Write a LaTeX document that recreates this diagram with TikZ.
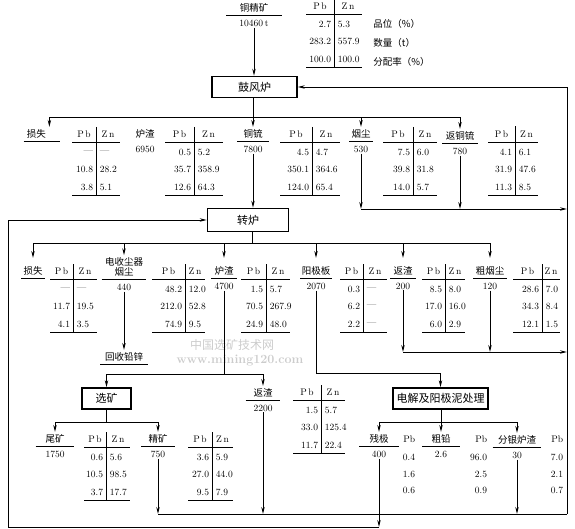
\documentclass[tikz,border=0pt]{standalone}
\usepackage{fontspec}
\newfontfamily\cjk{Noto Sans CJK SC}
\usetikzlibrary{positioning,arrows.meta,calc}

% Pb/Zn table: name, x of rule, header y, left reach, right reach, rows
\newcommand{\pbzn}[6]{%
  \node[hd] (#1-p) at (#2-#4/2,#3) {P\,b};
  \node[hd] (#1-z) at (#2+#5/2,#3) {Z\,n};
  \draw (#2-#4,#3+8) -- (#2+#5,#3+8);
  \draw (#2,#3-7) -- (#2,#3+61);
  \draw (#2-#4,#3+61) -- (#2+#5,#3+61);
  \foreach \a/\b [count=\i] in {#6} {
    \node[val,anchor=east] (#1-p\i) at (#2-2,#3+.5+17.5*\i) {\a};
    \node[val,anchor=west] (#1-z\i) at (#2+3,#3+.5+17.5*\i) {\b};
  }
}

\begin{document}
\begin{tikzpicture}[x=1pt,y=-1pt,line width=0.9pt,
  >={Stealth[length=7pt,width=3.4pt]},
  proc/.style={draw,line width=1.5pt,font=\cjk\fontsize{11}{12}\selectfont,minimum height=21pt,inner sep=2pt},
  lbl/.style={font=\cjk\fontsize{9.5}{10}\selectfont,inner xsep=2pt,inner ysep=2.3pt},
  ul/.style={append after command={(\tikzlastnode.south west) edge (\tikzlastnode.south east)}},
  val/.style={font=\fontsize{9.5}{10}\selectfont,inner sep=0.5pt},
  hd/.style={val},
  wm/.style={text=gray!40,inner sep=0pt}]
\useasboundingbox (0,0) rectangle (575,529);

% watermark
\node[wm,font=\cjk\fontsize{12}{13}\selectfont] (wm1) at (232,345) {中国选矿技术网};
\node[wm,font=\bfseries\fontsize{12.5}{13}\selectfont] (wm2) at (240,361) {www.mining120.com};

% process boxes
\node[proc,minimum width=85pt] (gfl) at (254.5,87) {鼓风炉};
\node[proc,minimum width=81pt,minimum height=23pt] (zl) at (248,220) {转炉};
\node[proc,minimum width=49pt] (xk) at (106.5,398.5) {选矿};
\node[proc,minimum width=95pt] (dj) at (440.5,398.5) {电解及阳极泥处理};

% feed
\node[lbl,ul,inner xsep=13pt] (feed) at (254,8) {铜精矿};
\node[val,below=4pt of feed] (feedq) {10460\,t};
\pbzn{t0}{334}{6}{28}{28}{2.7/5.3,283.2/557.9,100.0/100.0}
\node[lbl,anchor=west] (pw) at (371,24) {品位（\%）};
\node[lbl,anchor=west] (sl) at (371,43) {数量（t）};
\node[lbl,anchor=west] (fpl) at (371,62) {分配率（\%）};

% products of the blast furnace
\node[lbl,ul,text width=30pt,inner xsep=3pt] (ss1) at (42,134) {损失};
\node[lbl] (lz1) at (145,134) {炉渣};
\node[val,below=4pt of lz1] (lz1q) {6950};
\node[lbl,ul,inner xsep=6pt] (tl) at (253,134) {铜锍};
\node[val,below=4pt of tl] (tlq) {7800};
\node[lbl,ul] (yc1) at (361,134) {烟尘};
\node[val,below=4pt of yc1] (yc1q) {530};
\node[lbl,ul,inner xsep=3pt] (ftl) at (460,136) {返铜锍};
\node[val,below=4pt of ftl] (ftlq) {780};
\pbzn{t1}{96}{134}{24}{24}{\textemdash/\textemdash,10.8/28.2,3.8/5.1}
\pbzn{t2}{194}{134}{29}{29}{0.5/5.2,35.7/358.9,12.6/64.3}
\pbzn{t3}{312}{134}{32}{28}{4.5/4.7,350.1/364.6,124.0/65.4}
\pbzn{t4}{413}{134}{30}{24}{7.5/6.0,39.8/31.8,14.0/5.7}
\pbzn{t5}{515}{134}{27}{23}{4.1/6.1,31.9/47.6,11.3/8.5}
\draw (t5-p.north -| 515,0) ++(0,4) -- ++(0,-8);

% products of the converter
\node[lbl,ul] (ss2) at (33,271) {损失};
\node[lbl,ul,align=center,anchor=south,inner xsep=3pt,font=\cjk\fontsize{9.5}{9.5}\selectfont] (dsc) at (124,279) {电收尘器\\烟尘};
\node[val,below=4pt of dsc] (dscq) {440};
\node[lbl,ul,inner xsep=4.5pt] (hsqx) at (124,357) {回收铅锌};
\node[lbl,ul,inner xsep=3pt] (zlz) at (224,271) {炉渣};
\node[val,below=4pt of zlz] (zlzq) {4700};
\node[lbl,ul,inner xsep=1pt] (yjb) at (316,271) {阳极板};
\node[val,below=4pt of yjb] (yjbq) {2070};
\node[lbl,ul,inner xsep=3pt] (fz1) at (403,271) {返渣};
\node[val,below=4pt of fz1] (fz1q) {200};
\node[lbl,ul] (cyc) at (490,271) {粗烟尘};
\node[val,below=4pt of cyc] (cycq) {120};
\pbzn{t6}{73}{271}{23}{24}{\textemdash/\textemdash,11.7/19.5,4.1/3.5}
\pbzn{t7}{185}{271}{33}{20}{48.2/12.0,212.0/52.8,74.9/9.5}
\pbzn{t8}{266}{271}{25}{24}{1.5/5.7,70.5/267.9,24.9/48.0}
\pbzn{t9}{363}{271}{23}{24}{0.3/\textemdash,6.2/\textemdash,2.2/\textemdash}
\pbzn{t10}{445}{271}{23}{20}{8.5/8.0,17.0/16.0,6.0/2.9}
\pbzn{t11}{542}{271}{29}{18}{28.6/7.0,34.3/8.4,12.1/1.5}

% slag flotation
\node[lbl,ul,inner xsep=7.5pt] (fz2) at (263,393) {返渣};
\node[val,below=4pt of fz2] (fz2q) {2200};
\pbzn{t14}{321}{392}{28}{24}{1.5/5.7,33.0/125.4,11.7/22.4}
\node[lbl,ul,inner xsep=9.5pt] (wk) at (55,439) {尾矿};
\node[val,below=4pt of wk] (wkq) {1750};
\node[lbl,ul,inner xsep=7pt] (jk) at (158,439) {精矿};
\node[val,below=4pt of jk] (jkq) {750};
\pbzn{t12}{106}{439}{22}{24}{0.6/5.6,10.5/98.5,3.7/17.7}
\pbzn{t13}{212}{439}{24}{21}{3.6/5.9,27.0/44.0,9.5/7.9}

% electrolysis
\node[lbl,ul,inner xsep=10pt] (cj) at (379,439) {残极};
\node[val,below=4pt of cj] (cjq) {400};
\node[lbl,ul,inner xsep=9pt] (cq) at (441,439) {粗铅};
\node[val,below=4pt of cq] (cqq) {2.6};
\node[lbl,ul,inner xsep=5pt] (fyl) at (517,440) {分银炉渣};
\node[val,below=4pt of fyl] (fylq) {30};
\foreach \nm/\x/\a/\b/\c in {cjpb/416/0.4/1.6/0.6,cqpb/488/96.0/2.5/0.9,fypb/564/7.0/2.1/0.7} {
  \node[hd,anchor=east] (\nm-h) at (\x,439) {Pb};
  \node[val,anchor=east] (\nm-1) at (\x,457) {\a};
  \node[val,anchor=east] (\nm-2) at (\x,474) {\b};
  \node[val,anchor=east] (\nm-3) at (\x,490) {\c};
}

% connectors
\coordinate (rt) at (567,87);
\coordinate (rb) at (567,514);
\coordinate (r1) at (567,209);
\coordinate (r2) at (567,352);
\coordinate (lb) at (8,527);
\coordinate (lt) at (8,220);
\coordinate (gb) at (253,117);
\coordinate (zb) at (252,243);
\coordinate (lzj) at (224,374);
\coordinate (xb) at (106,422);
\coordinate (db) at (441,422);

\draw[->] (feedq) -- (feedq |- gfl.north);
\draw[->] (rb) -- (rt) -- (gfl.east);
\draw[->] (gfl.south -| gb) -- (tl.north);
\draw[->] (gb) -| ($(ss1.north west)!.7!(ss1.north east)$);
\draw[->] (gb) -| (yc1.north);
\draw[->] (gb) -| (ftl.north);
\draw[->] (tlq) -- (tlq |- zl.north);
\draw[->] (yc1q) -- (yc1q |- r1);
\draw[->] (ftlq) -- (ftlq |- r1);
\draw[->] (yc1q |- r1) -- (r1);

\draw (zl.south -| zb) -- (zb);
\foreach \n in {ss2,zlz,yjb,fz1,cyc} \draw[->,shorten >=6pt] (zb) -| (\n.north);
\draw[->] (zb) -| (dsc.north);
\draw[->] (dscq) -- (dscq |- hsqx.north);
\draw (zlzq) -- (zlzq |- lzj);
\draw[->] (zlzq |- lzj) -| (xk.north);
\draw[->] (zlzq |- lzj) -| (fz2.north);
\draw[->] (yjbq) |- ($(dj.north)+(0,-14)$) -- (dj.north);
\draw[->] (fz1q) -- (fz1q |- r2);
\draw[->] (cycq) -- (cycq |- r2);
\draw[->] (fz1q |- r2) -- (r2);

\draw (xk.south -| xb) -- (xb);
\draw[->] (xb) -| (wk.north);
\draw[->] (xb) -| (jk.north);
\draw[->] (jkq) -- (jkq |- rb);
\draw[->] (fz2q) -- (fz2q |- rb);
\draw[->] (fylq) -- (fylq |- rb);
\draw (jkq |- rb) -- (rb);

\draw[->] (dj.south -| db) -- (cq.north);
\draw[->] (db) -| (cj.north);
\draw[->] (db) -| (fyl.north);
\draw[->] (cjq) -- (cjq |- lb);
\draw[->] (cjq |- lb) -- (lb) -- (lt) -- (zl.west |- lt);
\end{tikzpicture}
\end{document}
